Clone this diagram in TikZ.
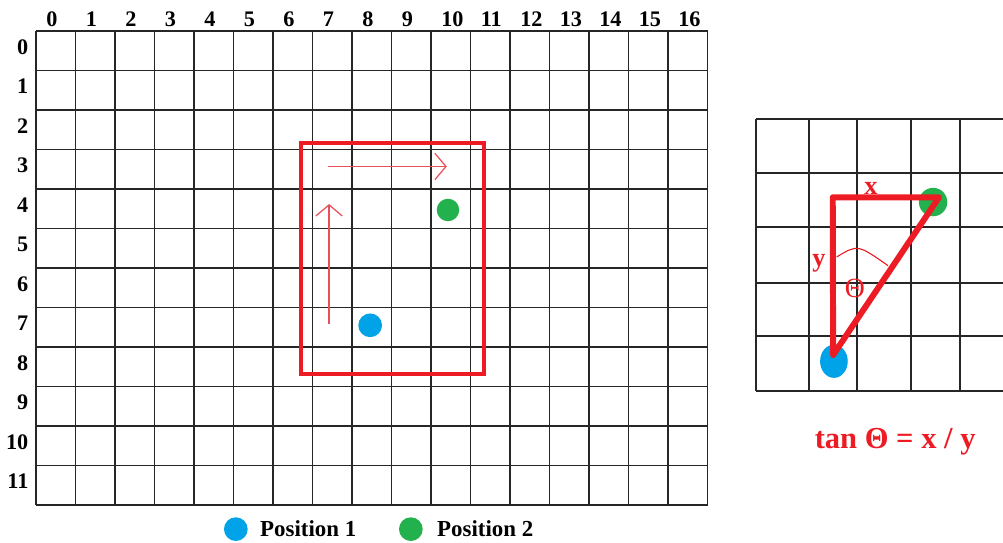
\documentclass[tikz,border=0pt]{standalone}
\usepackage{fontspec}
\setmainfont{Liberation Serif}
\usetikzlibrary{arrows.meta, shapes.geometric}

\definecolor{paintred}{RGB}{237,28,36}
\definecolor{arrowred}{RGB}{232,80,88}
\definecolor{posblue}{RGB}{0,162,232}
\definecolor{posgreen}{RGB}{34,177,76}

\begin{document}
\begin{tikzpicture}[
    gridline/.style={draw=black!85, line width=1.3pt},
    idx/.style={font=\bfseries\fontsize{16}{16}\selectfont, inner sep=1pt},
    dot/.style={circle, inner sep=0pt, minimum size=6mm},
    redbox/.style={draw=paintred, line width=2.9pt},
    move/.style={draw=arrowred, line width=0.9pt, -{Straight Barb[length=8pt, width=19pt]}},
    legend/.style={font=\bfseries\fontsize{16.5}{16.5}\selectfont, anchor=west, inner sep=0pt},
    redlabel/.style={text=paintred, anchor=base, inner sep=0pt},
    triangle/.style={draw=paintred, line width=4.3pt, line join=round}
  ]

  \useasboundingbox (-0.91,-12.96) rectangle (24.48,0.785);

  % ============ MAIN GRID ============
  \draw[gridline] (0,0) grid (17,-12);

  % Column and row numbers
  \foreach \c in {0,...,16}
    \node[idx, anchor=base west] (col\c) at (\c+0.22,0.11) {\c};
  \foreach \r in {0,...,11}
    \node[idx, anchor=east] (row\r) at (-0.15,-\r-0.4) {\r};

  % Search window
  \draw[redbox] (6.70,-2.83) rectangle (11.34,-8.68);

  % Movement arrows
  \coordinate (hstart) at (7.39,-3.43);
  \coordinate (hend) at (10.40,-3.43);
  \coordinate (vstart) at (7.42,-7.41);
  \coordinate (vend) at (7.42,-4.38);
  \draw[move] (hstart) -- (hend);
  \draw[move] (vstart) -- (vend);

  % Positions
  \node[dot, fill=posblue] (pos1) at (8.46,-7.45) {};
  \node[dot, fill=posgreen, minimum size=5.7mm] (pos2) at (10.43,-4.53) {};

  % ============ LEGEND ============
  \node[dot, fill=posblue] (legdot1) at (5.06,-12.61) {};
  \node[legend] (leg1) at (5.67,-12.61) {Position 1};
  \node[dot, fill=posgreen] (legdot2) at (9.49,-12.61) {};
  \node[legend] (leg2) at (10.15,-12.61) {Position 2};

  % ============ ZOOMED GRID ============
  \foreach \yy in {2.22,3.60,4.96,6.37,7.73,9.11}
    \draw[gridline] (18.23,-\yy) -- (24.48,-\yy);
  \foreach \xx in {18.23,19.57,20.78,22.15,23.39}
    \draw[gridline] (\xx,-2.22) -- (\xx,-9.11);

  % Positions under the triangle
  \node[dot, fill=posgreen, minimum size=7.2mm] (zpos2) at (22.71,-4.33) {};
  \node[ellipse, fill=posblue, inner sep=0pt, minimum width=7mm, minimum height=8.4mm] (zpos1) at (20.20,-8.36) {};

  % Right triangle
  \coordinate (corner) at (20.17,-4.21);
  \coordinate (tip) at (22.86,-4.21);
  \coordinate (base) at (20.18,-8.20);
  \draw[triangle] (base) -- (corner) -- (tip) -- cycle;

  % Angle arc
  \coordinate (arcstart) at (20.27,-5.72);
  \coordinate (arcend) at (21.57,-5.94);
  \draw[paintred, line width=0.8pt] (arcstart) .. controls (20.8,-5.4) .. (arcend);

  % Side labels
  \node[redlabel, font=\bfseries\fontsize{19}{19}\selectfont] (xlab) at (21.14,-4.13) {x};
  \node[redlabel, font=\bfseries\fontsize{19}{19}\selectfont] (ylab) at (19.82,-5.97) {y};
  \node[redlabel, font=\fontsize{20}{20}\selectfont] (theta) at (20.73,-6.75) {Θ};

  % Formula
  \node[redlabel, font=\bfseries\fontsize{22}{22}\selectfont] (formula) at (21.75,-10.58) {tan Θ = x / y};

\end{tikzpicture}
\end{document}
